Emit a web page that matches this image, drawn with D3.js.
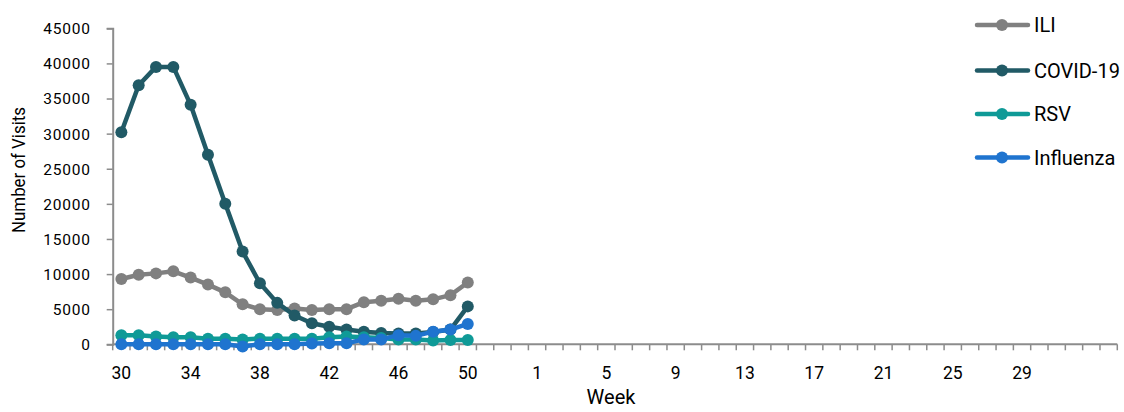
<!DOCTYPE html>
<html>
<head>
<meta charset="utf-8">
<script src="https://cdn.jsdelivr.net/npm/d3@7"></script>
<style>
  body { margin: 0; background: #fff; }
  text { font-family: "Roboto", sans-serif; fill: #000; }
</style>
</head>
<body>
<div class="chart"></div>
<script>
// week labels along the x axis (season runs week 30 -> week 29, plus empty slots)
var weekLabels = ["30","31","32","33","34","35","36","37","38","39","40","41","42","43","44","45","46","47","48","49","50","51","52","53",
                  "1","2","3","4","5","6","7","8","9","10","11","12","13","14","15","16","17","18","19","20","21","22","23","24","25","26","27","28","29",
                  "","","","",""];

// values for weeks 30..50
var iliValues   = [9300, 9900, 10100, 10400, 9500, 8500, 7400, 5700, 5000, 4900, 5100, 4900, 5000, 5000, 6000, 6200, 6500, 6200, 6400, 7000, 8800];
var covidValues = [30200, 36900, 39500, 39500, 34100, 27000, 20000, 13200, 8700, 5900, 4100, 3000, 2500, 2100, 1800, 1600, 1550, 1550, 1750, 2100, 5400];
var rsvValues   = [1300, 1300, 1100, 1000, 1000, 800, 800, 700, 800, 800, 800, 800, 1000, 1100, 1000, 900, 700, 700, 550, 600, 600];
var fluValues   = [0, 0, 0, 0, 0, 0, 0, -300, 0, 0, 0, 100, 150, 150, 700, 700, 1300, 1200, 1800, 2100, 2900];

var seriesNames  = ["ILI", "COVID-19", "RSV", "Influenza"];
var seriesColors = ["#808080", "#215a66", "#0f9a97", "#1f74cf"];
var yTicks = [0, 5000, 10000, 15000, 20000, 25000, 30000, 35000, 40000, 45000];

var svgWidth = 1124, svgHeight = 412;
var plot = { left: 112.7, right: 1117.3, top: 28.3, bottom: 344.3 };

var svg = d3.select(".chart").append("svg")
    .attr("width", svgWidth)
    .attr("height", svgHeight);

var xScale = d3.scaleBand()
    .domain(d3.range(weekLabels.length))
    .range([plot.left, plot.right])
    .padding(0);

var yScale = d3.scaleLinear()
    .domain([0, 45000])
    .range([plot.bottom, plot.top]);

// y axis
var yAxis = d3.axisLeft(yScale).tickValues(yTicks).tickSize(6).tickPadding(16).tickFormat(d3.format("d"));
var yG = svg.append("g")
    .attr("transform", `translate(${plot.left},0)`)
    .call(yAxis);
yG.select(".domain").attr("stroke", "#8c8c8c").attr("stroke-width", 2);
yG.selectAll(".tick line").attr("stroke", "#8c8c8c").attr("stroke-width", 1.5);
yG.selectAll(".tick text")
    .style("font-size", "15.5px")
    .style("letter-spacing", "0.8px")
    .attr("dy", "0.35em");

// x axis - labels every 4th category, tick marks between categories
var xAxis = d3.axisBottom(xScale)
    .tickValues(d3.range(0, weekLabels.length, 4))
    .tickFormat(function(i) { return weekLabels[i]; })
    .tickSize(0).tickPadding(22);
var xG = svg.append("g")
    .attr("transform", `translate(0,${plot.bottom})`)
    .call(xAxis);
xG.select(".domain").remove();
xG.selectAll(".tick text").style("font-size", "17.5px");

// boundary tick marks
svg.append("g").selectAll("line")
    .data(d3.range(weekLabels.length + 1))
    .enter()
    .append("line")
    .attr("x1", function(i) { return plot.left + i * xScale.step(); })
    .attr("x2", function(i) { return plot.left + i * xScale.step(); })
    .attr("y1", plot.bottom)
    .attr("y2", plot.bottom + 6)
    .attr("stroke", "#8c8c8c")
    .attr("stroke-width", 1.5);
svg.append("line")
    .attr("x1", plot.left).attr("x2", plot.right)
    .attr("y1", plot.bottom).attr("y2", plot.bottom)
    .attr("stroke", "#8c8c8c").attr("stroke-width", 2);

// axis titles
svg.append("text")
    .attr("x", 611)
    .attr("y", 404)
    .attr("text-anchor", "middle")
    .style("font-size", "20px")
    .text("Week");

svg.append("text")
    .attr("transform", "translate(25,170) rotate(-90)")
    .attr("text-anchor", "middle")
    .attr("textLength", 126)
    .attr("lengthAdjust", "spacingAndGlyphs")
    .style("font-size", "19px")
    .text("Number of Visits");

// series
var allValues = [iliValues, covidValues, rsvValues, fluValues];
var cx = function(d, i) { return xScale(i) + xScale.bandwidth() / 2; };

var line = d3.line()
    .x(cx)
    .y(function(d) { return yScale(d); });

allValues.forEach(function(vals, s) {
    var g = svg.append("g");
    g.append("path")
        .datum(vals)
        .attr("d", line)
        .attr("fill", "none")
        .attr("stroke", seriesColors[s])
        .attr("stroke-width", 4.5)
        .attr("stroke-linejoin", "round");
    g.selectAll("circle")
        .data(vals)
        .enter()
        .append("circle")
        .attr("cx", cx)
        .attr("cy", function(d) { return yScale(d); })
        .attr("r", 6)
        .attr("fill", seriesColors[s]);
});

// legend
var legend = svg.append("g");
seriesNames.forEach(function(name, s) {
    var y = [25, 70.5, 114, 157.5][s];
    legend.append("line")
        .attr("x1", 977).attr("x2", 1028)
        .attr("y1", y).attr("y2", y)
        .attr("stroke", seriesColors[s])
        .attr("stroke-width", 4.5)
        .attr("stroke-linecap", "round");
    legend.append("circle")
        .attr("cx", 1002).attr("cy", y).attr("r", 6)
        .attr("fill", seriesColors[s]);
    legend.append("text")
        .attr("x", 1034).attr("y", y)
        .attr("dy", "0.36em")
        .style("font-size", "20px")
        .text(name);
});
</script>
</body>
</html>
